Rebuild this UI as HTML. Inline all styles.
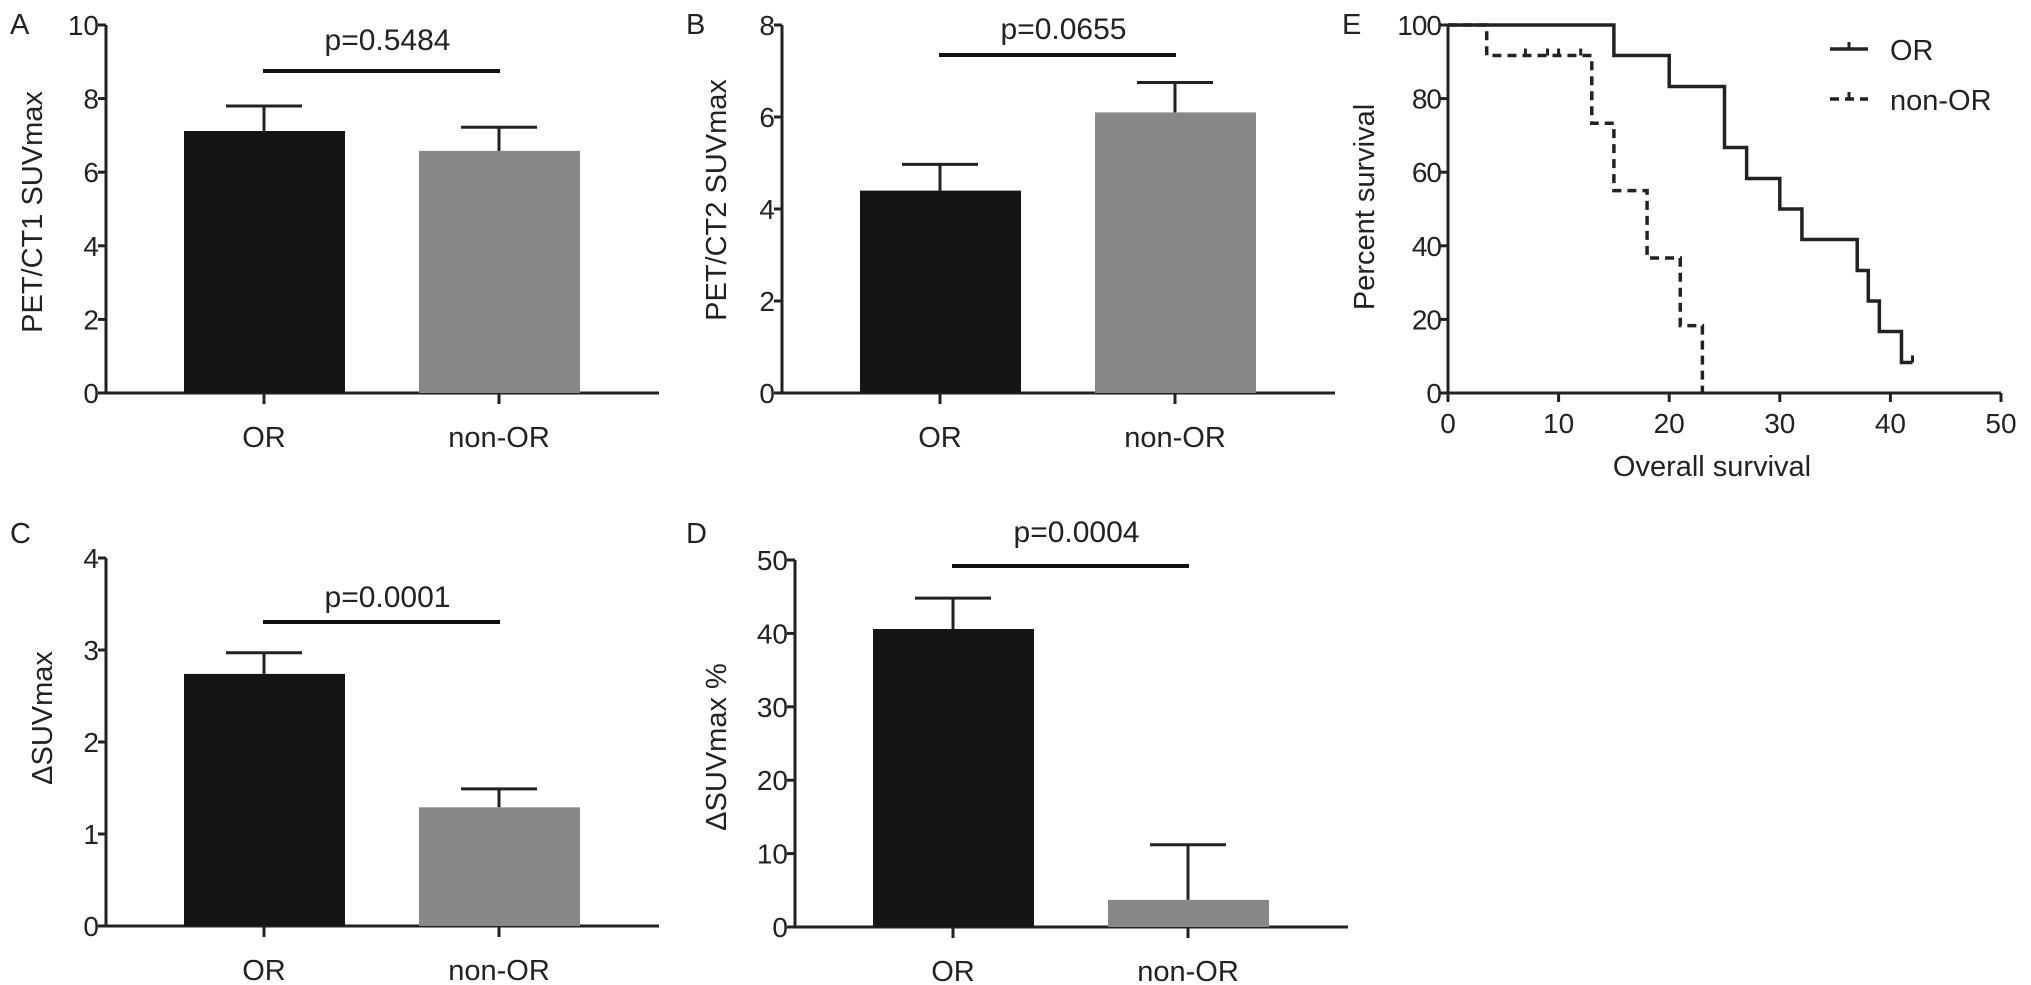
<!DOCTYPE html>
<html><head><meta charset="utf-8"><style>
body{margin:0;background:#fff}
svg{display:block;font-family:"Liberation Sans",Arial,sans-serif}
</style></head><body>
<svg id="fig" width="2031" height="985" viewBox="0 0 2031 985" xmlns="http://www.w3.org/2000/svg"></svg>
<script>
const categories = ["OR", "non-OR"];
const aMeans = [7.12, 6.58], aErr = [7.8, 7.22];
const bMeans = [4.4, 6.1], bErr = [4.97, 6.75];
const cMeans = [2.74, 1.29], cErr = [2.97, 1.49];
const dMeans = [40.6, 3.7], dErr = [44.8, 11.2];
const aTicks = [0, 2, 4, 6, 8, 10];
const bTicks = [0, 2, 4, 6, 8];
const cTicks = [0, 1, 2, 3, 4];
const dTicks = [0, 10, 20, 30, 40, 50];
const pValues = ["p=0.5484", "p=0.0655", "p=0.0001", "p=0.0004"];
const eXTicks = [0, 10, 20, 30, 40, 50];
const eYTicks = [0, 20, 40, 60, 80, 100];
const orTimes = [0, 15, 20, 25, 27, 30, 32, 37, 38, 39, 41, 42];
const orSurv = [100, 91.7, 83.3, 66.7, 58.3, 50, 41.7, 33.3, 25, 16.7, 8.3, 8.3];
const nonTimes = [0, 3.5, 13, 15, 18, 21, 23];
const nonSurv = [100, 91.7, 73.3, 55, 36.7, 18.3, 0];
const nonCensorT = [7, 9, 10, 12];
const orCensorT = [42];

const NS = "http://www.w3.org/2000/svg";
const svg = document.getElementById("fig");
function mk(tag, attrs, parent, text) {
  const e = document.createElementNS(NS, tag);
  for (const k in attrs) e.setAttribute(k, attrs[k]);
  if (text !== undefined) e.textContent = text;
  (parent || svg).appendChild(e);
  return e;
}

function barPanel(o) {
  const g = mk("g", {});
  
  
  const ymax = o.ticks[o.ticks.length - 1];
  const y = v => o.y0 - (o.y0 - o.yTop) * v / ymax;
  const lt = mk("text", {x: o.letterX, y: o.letterY, "font-size": 29, fill: "#222"}, g, o.letter);
  
  
  const ax = mk("path", {d: `M${o.ax},${o.yTop} V${o.y0} H${o.ax + 553}`, stroke: "#222", "stroke-width": 3, fill: "none"}, g);
  
  
  o.ticks.forEach(t => {
    mk("line", {x1: o.ax - 8, x2: o.ax, y1: y(t), y2: y(t), stroke: "#222", "stroke-width": 3}, g);
    const tl = mk("text", {x: o.ax - 7, y: y(t) + 10, "font-size": 28, "text-anchor": "end", fill: "#222"}, g, t);
    
    
  });
  const yl = mk("text", {x: 0, y: 0, "font-size": 29, "text-anchor": "middle", fill: "#222", transform: `translate(${o.ylx},${o.yly}) rotate(-90)`}, g, o.ylabel);
  
  
  const centers = [o.ax + 158, o.ax + 393];
  const colors = ["#151515", "#878787"];
  categories.forEach((c, i) => {
    const cx = centers[i];
    mk("line", {x1: cx, x2: cx, y1: y(o.means[i]), y2: y(o.err[i]), stroke: "#222", "stroke-width": 3}, g);
    mk("line", {x1: cx - 38, x2: cx + 38, y1: y(o.err[i]), y2: y(o.err[i]), stroke: "#222", "stroke-width": 3}, g);
    const b = mk("rect", {x: cx - 80, y: y(o.means[i]), width: 161, height: o.y0 - y(o.means[i]), fill: colors[i]}, g);
    
    
    mk("line", {x1: cx, x2: cx, y1: o.y0, y2: o.y0 + 11, stroke: "#222", "stroke-width": 3}, g);
    const cl = mk("text", {x: cx, y: o.y0 + 54, "font-size": 29, "text-anchor": "middle", fill: "#222"}, g, c);
    
    
  });
  const sl = mk("line", {x1: centers[0] - 1, x2: centers[1] + 1, y1: o.sigY, y2: o.sigY, stroke: "#111", "stroke-width": 4}, g);
  
  
  const pt = mk("text", {x: (centers[0] + centers[1]) / 2 + 6, y: o.pY, "font-size": 30, "text-anchor": "middle", fill: "#222"}, g, o.p);
  
  
}

barPanel({name: "panel-a", letter: "A", letterX: 10, letterY: 34, ax: 106, yTop: 25, y0: 393, ticks: aTicks, means: aMeans, err: aErr, ylabel: "PET/CT1 SUVmax", ylx: 42, yly: 212, sigY: 71, pY: 50, p: pValues[0]});
barPanel({name: "panel-b", letter: "B", letterX: 686, letterY: 34, ax: 782, yTop: 25, y0: 393, ticks: bTicks, means: bMeans, err: bErr, ylabel: "PET/CT2 SUVmax", ylx: 726, yly: 200, sigY: 55, pY: 39, p: pValues[1]});
barPanel({name: "panel-c", letter: "C", letterX: 10, letterY: 543, ax: 106, yTop: 558, y0: 926, ticks: cTicks, means: cMeans, err: cErr, ylabel: "ΔSUVmax", ylx: 52, yly: 718, sigY: 622, pY: 607, p: pValues[2]});
barPanel({name: "panel-d", letter: "D", letterX: 686, letterY: 543, ax: 795, yTop: 560, y0: 927, ticks: dTicks, means: dMeans, err: dErr, ylabel: "ΔSUVmax %", ylx: 726, yly: 747, sigY: 566, pY: 542, p: pValues[3]});

// Panel E survival
(function () {
  const g = mk("g", {});
  
  
  const X0 = 1448, X1 = 2001, Y0 = 393, Y1 = 25;
  const x = t => X0 + (X1 - X0) * t / 50;
  const y = v => Y0 - (Y0 - Y1) * v / 100;
  const lt = mk("text", {x: 1342, y: 34, "font-size": 29, fill: "#222"}, g, "E");
  
  
  const ax = mk("path", {d: `M${X0},${Y1} V${Y0} H${X1}`, stroke: "#222", "stroke-width": 3, fill: "none"}, g);
  
  
  eYTicks.forEach(t => {
    mk("line", {x1: X0 - 8, x2: X0, y1: y(t), y2: y(t), stroke: "#222", "stroke-width": 3}, g);
    const tl = mk("text", {x: X0 - 7, y: y(t) + 10, "font-size": 28, "text-anchor": "end", fill: "#222", "letter-spacing": -1}, g, t);
    
    
  });
  eXTicks.forEach(t => {
    mk("line", {x1: x(t), x2: x(t), y1: Y0, y2: Y0 + 9, stroke: "#222", "stroke-width": 3}, g);
    const tl = mk("text", {x: x(t), y: 433, "font-size": 28, "text-anchor": "middle", fill: "#222"}, g, t);
    
    
  });
  const xt = mk("text", {x: 1712, y: 476, "font-size": 29, "text-anchor": "middle", fill: "#222"}, g, "Overall survival");
  
  
  const yt = mk("text", {x: 0, y: 0, "font-size": 29, "text-anchor": "middle", fill: "#222", transform: "translate(1374,207) rotate(-90)"}, g, "Percent survival");
  
  
  function step(ts, vs) {
    let d = `M${x(ts[0])},${y(vs[0])}`;
    for (let i = 1; i < ts.length; i++) d += ` H${x(ts[i])} V${y(vs[i])}`;
    return d;
  }
  const orL = mk("path", {d: step(orTimes, orSurv), stroke: "#222", "stroke-width": 3.5, fill: "none"}, g);
  
  
  const nonL = mk("path", {d: step(nonTimes, nonSurv), stroke: "#222", "stroke-width": 3.5, fill: "none", "stroke-dasharray": "9,6"}, g);
  
  
  function survAt(ts, vs, t) { let v = vs[0]; for (let i = 0; i < ts.length; i++) if (ts[i] <= t) v = vs[i]; return v; }
  nonCensorT.forEach(t => {
    const c = mk("line", {x1: x(t), x2: x(t), y1: y(survAt(nonTimes, nonSurv, t)), y2: y(survAt(nonTimes, nonSurv, t)) - 7, stroke: "#222", "stroke-width": 3}, g);
    
    
  });
  orCensorT.forEach(t => {
    const c = mk("line", {x1: x(t), x2: x(t), y1: y(survAt(orTimes, orSurv, t)), y2: y(survAt(orTimes, orSurv, t)) - 7, stroke: "#222", "stroke-width": 3}, g);
    
    
  });
  // legend
  const l1 = mk("g", {}, g);
  
  
  mk("line", {x1: 1830, x2: 1868, y1: 49, y2: 49, stroke: "#222", "stroke-width": 3.5}, l1);
  mk("line", {x1: 1849, x2: 1849, y1: 49, y2: 42, stroke: "#222", "stroke-width": 3}, l1);
  mk("text", {x: 1890, y: 60, "font-size": 29, fill: "#222"}, l1, "OR");
  const l2 = mk("g", {}, g);
  
  
  mk("line", {x1: 1830, x2: 1868, y1: 99, y2: 99, stroke: "#222", "stroke-width": 3.5, "stroke-dasharray": "9,6"}, l2);
  mk("line", {x1: 1849, x2: 1849, y1: 99, y2: 92, stroke: "#222", "stroke-width": 3}, l2);
  mk("text", {x: 1890, y: 110, "font-size": 29, fill: "#222"}, l2, "non-OR");
})();
</script>
</body></html>
